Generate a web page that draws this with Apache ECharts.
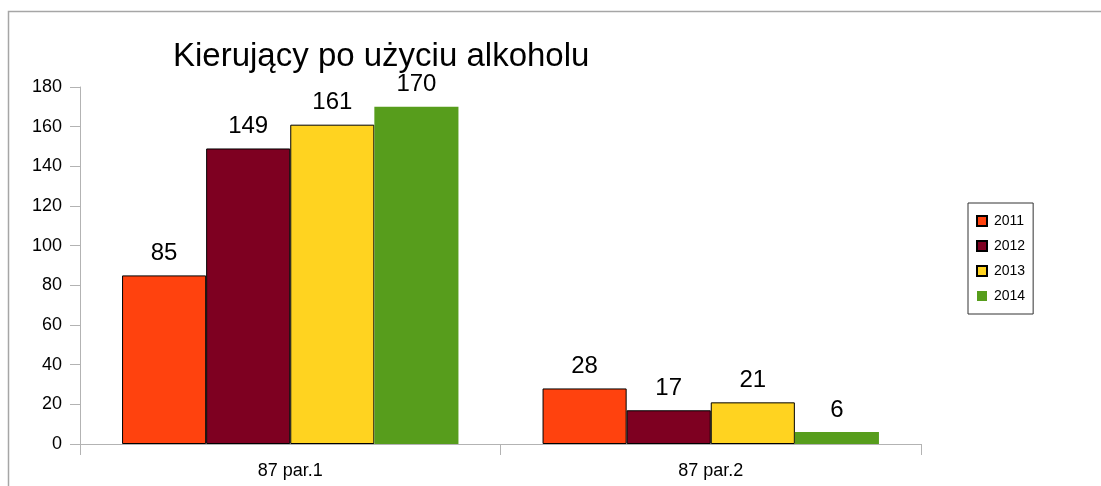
<!DOCTYPE html>
<html>
<head>
<meta charset="utf-8">
<script src="https://cdn.jsdelivr.net/npm/echarts@6/dist/echarts.min.js"></script>
<style>
  html, body { margin: 0; padding: 0; background: #fff; }
  #chart { width: 1101px; height: 486px; }
</style>
</head>
<body>
<div id="chart"></div>
<script>
// dane wykresu
const categories = ['87 par.1', '87 par.2']
const years = ['2011', '2012', '2013', '2014']
const values2011 = [85, 28]
const values2012 = [149, 17]
const values2013 = [161, 21]
const values2014 = [170, 6]
const yTicks = { min: 0, max: 180, interval: 20 }

const colors = ['#ff420e', '#7e0021', '#ffd320', '#579d1c']
const allValues = [values2011, values2012, values2013, values2014]
const font = 'Liberation Sans, Arial, sans-serif'

const chart = echarts.init(document.getElementById('chart'))

const series = years.map((y, i) => ({
  name: y,
  type: 'bar',
  data: allValues[i],
  barGap: 0,
  barCategoryGap: '20%',
  itemStyle: {
    color: colors[i],
    borderColor: i === 3 ? colors[i] : '#000',
    borderWidth: i === 3 ? 0 : 1
  },
  label: {
    show: true,
    position: 'top',
    distance: 10,
    color: '#000',
    fontSize: 24,
    fontFamily: font
  }
}))

chart.setOption({
  backgroundColor: '#fff',
  animation: false,
  color: colors,
  title: {
    text: 'Kierujący po użyciu alkoholu',
    left: 173,
    top: 40,
    padding: 0,
    textStyle: {
      color: '#000',
      fontSize: 33,
      fontWeight: 'normal',
      fontFamily: font
    }
  },
  legend: {
    orient: 'vertical',
    left: 968,
    top: 203,
    padding: [11, 8, 11, 8],
    itemGap: 11,
    itemWidth: 10,
    itemHeight: 10,
    icon: 'rect',
    borderColor: '#333',
    borderWidth: 1,
    textStyle: {
      color: '#000',
      fontSize: 14,
      fontFamily: font,
      padding: [0, 0, 0, 2]
    },
    data: years
  },
  grid: {
    left: 80,
    right: 180,
    top: 87,
    bottom: 42,
    containLabel: false
  },
  xAxis: {
    type: 'category',
    data: categories,
    axisLine: { lineStyle: { color: '#b3b3b3', width: 1 } },
    axisTick: { show: true, length: 11, lineStyle: { color: '#b3b3b3' } },
    axisLabel: {
      margin: 18,
      color: '#000',
      fontSize: 18,
      fontFamily: font
    }
  },
  yAxis: {
    type: 'value',
    min: yTicks.min,
    max: yTicks.max,
    interval: yTicks.interval,
    splitLine: { show: false },
    axisLine: { show: true, lineStyle: { color: '#b3b3b3', width: 1 } },
    axisTick: { show: true, length: 10, lineStyle: { color: '#b3b3b3' } },
    axisLabel: {
      margin: 18,
      color: '#000',
      fontSize: 18,
      fontFamily: font
    }
  },
  graphic: [
    {
      type: 'rect',
      silent: true,
      z: -1,
      shape: { x: 8.5, y: 11.5, width: 1200, height: 600 },
      style: { fill: 'none', stroke: '#a6a6a6', lineWidth: 1.5 }
    }
  ],
  series: series
})
</script>
</body>
</html>
